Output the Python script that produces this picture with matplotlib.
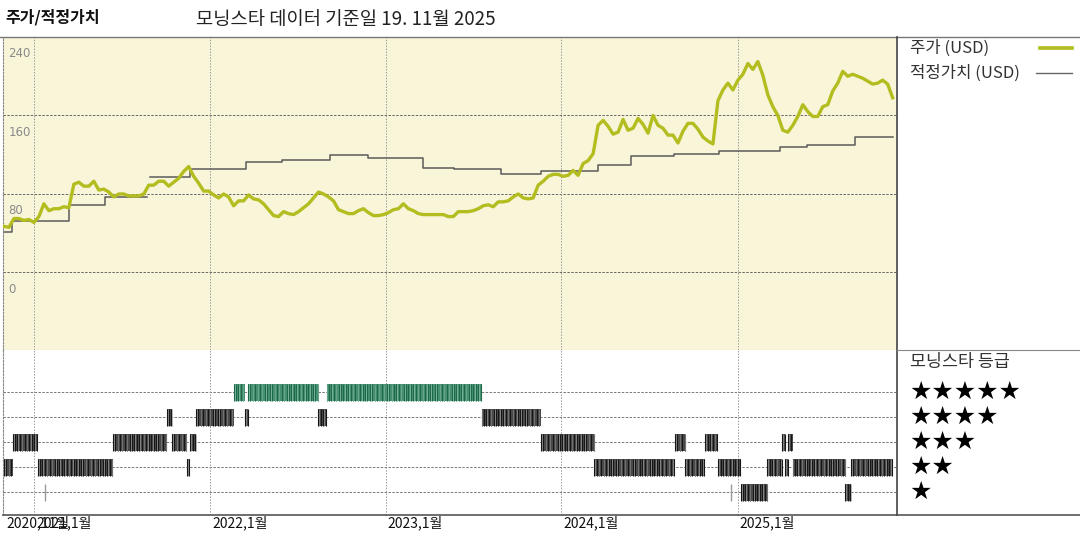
import matplotlib
matplotlib.use('Agg')
import matplotlib.pyplot as plt
import matplotlib.dates as mdates
from matplotlib.lines import Line2D
import numpy as np
import pandas as pd

plt.rcParams['font.family'] = ['Noto Sans CJK KR', 'DejaVu Sans']

# ---------------- data ----------------
price_start = '2020-10-30'
price_end = '2025-11-19'
price = [47, 46, 55, 55, 53, 54, 51, 57, 70, 63, 65, 65, 67, 66, 90, 92, 88, 88, 93, 84,
         85, 82, 77, 80, 80, 78, 78, 78, 80, 89, 89, 93, 93, 88, 92, 96, 103, 108, 98, 91,
         83, 83, 79, 76, 80, 77, 68, 73, 73, 79, 75, 74, 70, 64, 58, 57, 62, 60, 59, 62,
         66, 70, 76, 82, 80, 77, 73, 64, 62, 60, 60, 63, 65, 61, 58, 58, 59, 61, 64, 65,
         70, 65, 63, 60, 59, 59, 59, 59, 59, 57, 57, 62, 62, 62, 63, 65, 68, 69, 67, 72,
         72, 73, 77, 80, 76, 75, 76, 89, 93, 98, 100, 100, 98, 99, 104, 99, 111, 114, 121, 150,
         155, 149, 141, 143, 156, 145, 147, 157, 151, 142, 160, 150, 147, 140, 140, 132, 144, 152, 152, 146,
         138, 134, 131, 175, 186, 193, 186, 196, 202, 213, 207, 215, 201, 181, 169, 160, 145, 143, 150, 159,
         171, 164, 159, 159, 169, 171, 185, 193, 205, 200, 202, 200, 198, 195, 192, 193, 196, 192, 178]

fv_dates = ['2020-10-30', '2020-11-15', '2021-03-15', '2021-05-27', '2021-08-23', '2021-08-29',
            '2021-11-21', '2022-03-17', '2022-05-31', '2022-09-08', '2022-11-26', '2023-03-19',
            '2023-05-22', '2023-08-28', '2023-11-19', '2024-03-17', '2024-05-25', '2024-08-22',
            '2024-11-24', '2025-03-29', '2025-05-26', '2025-09-01', '2025-11-19']
fv_values = [41, 52, 69, 77, np.nan, 97, 105, 113, 115, 120, 117, 106, 105, 100.5, 103, 110,
             119, 121, 124, 128, 130, 138, 138]

rating_start = ['2020-10-30', '2020-11-17', '2021-01-08', '2021-06-13', '2021-10-03', '2021-10-14',
                '2021-11-14', '2021-11-21', '2021-12-03', '2022-02-19', '2022-03-15', '2022-03-21',
                '2022-08-14', '2022-08-31', '2023-07-19', '2023-11-19', '2024-03-09', '2024-08-24',
                '2024-09-14', '2024-10-26', '2024-11-22', '2025-01-07', '2025-03-04', '2025-04-04',
                '2025-04-10', '2025-04-16', '2025-04-25', '2025-08-13', '2025-08-24']
rating_end = ['2020-11-17', '2021-01-08', '2021-06-13', '2021-10-03', '2021-10-14', '2021-11-14',
              '2021-11-21', '2021-12-03', '2022-02-19', '2022-03-15', '2022-03-21', '2022-08-14',
              '2022-08-31', '2023-07-19', '2023-11-19', '2024-03-09', '2024-08-24', '2024-09-14',
              '2024-10-26', '2024-11-22', '2025-01-07', '2025-03-04', '2025-04-04', '2025-04-10',
              '2025-04-16', '2025-04-25', '2025-08-13', '2025-08-24', '2025-11-19']
rating_stars = [2, 3, 2, 3, 4, 3, 2, 3, 4, 5, 4, 5, 4, 5, 4, 3, 2, 3, 2, 3, 2, 1, 2, 3, 2, 3, 2, 1, 2]
rating_blips = ['2021-01-24', '2024-12-18']   # single-day 1-star marks

tick_dates = ['2020-10-30', '2021-01-01', '2022-01-01', '2023-01-01', '2024-01-01', '2025-01-01']
tick_labels = ['2020,11월', '2021,1월', '2022,1월', '2023,1월', '2024,1월', '2025,1월']
grid_years = ['2021-01-01', '2022-01-01', '2023-01-01', '2024-01-01', '2025-01-01']
y_ticks = [0, 80, 160, 240]

title_left = '주가/적정가치'
title_main = '모닝스타 데이터 기준일 19. 11월 2025'
legend_price = '주가 (USD)'
legend_fv = '적정가치 (USD)'
rating_title = '모닝스타 등급'

# ---------------- styling ----------------
W, H = 1080, 540
fig = plt.figure(figsize=(W / 100, H / 100), dpi=100)
fig.patch.set_facecolor('white')

def fx(px):
    return px / W

def fy(py):
    return 1 - py / H

x_left, x_right = 3, 897
ax = fig.add_axes([fx(x_left), fy(350), fx(x_right - x_left), fy(37) - fy(350)])
axr = fig.add_axes([fx(x_left), fy(515), fx(x_right - x_left), fy(350) - fy(515)])

xlim = (pd.Timestamp('2020-10-28'), pd.Timestamp('2025-11-28'))
BG = '#f9f5d9'
PRICE_C = '#b3bd1f'
FV_C = '#5a5a5a'

# --- top panel
ax.set_facecolor(BG)
price_dates = pd.date_range(price_start, price_end, periods=len(price))
ax.plot(price_dates, price, color=PRICE_C, lw=2.4, solid_joinstyle='round', zorder=3)
ax.step(pd.to_datetime(fv_dates), fv_values, where='post', color=FV_C, lw=1.1, zorder=2)
ax.set_xlim(*xlim)
ax.set_ylim(-79, 240)
for v in y_ticks[:-1]:
    ax.axhline(v, color='#666666', lw=0.7, ls=(0, (2.5, 1.5)), zorder=1)
for d in grid_years:
    ax.axvline(pd.Timestamp(d), color='#9a9a9a', lw=0.7, ls=(0, (1.5, 1.5)), zorder=1)
for v in y_ticks:
    ax.annotate(str(v), xy=(0, v), xycoords=('axes fraction', 'data'),
                xytext=(4, -12), textcoords='offset points', ha='left', va='center',
                fontsize=8.5, color='#8a8a8a', family=['DejaVu Sans'])
ax.set_xticks([]); ax.set_yticks([])
for s in ['top', 'right']:
    ax.spines[s].set_visible(False)
ax.spines['left'].set_linestyle((0, (1.5, 1.5)))
ax.spines['left'].set_color('#888888')
ax.spines['bottom'].set_color('#cfc79a')
ax.spines['bottom'].set_linewidth(0.8)

# --- rating panel
axr.set_facecolor('white')
axr.set_xlim(*xlim)
axr.set_ylim(0.08, 6.68)
for s in range(1, 6):
    axr.axhline(s, color='#777777', lw=0.7, ls=(0, (2.5, 1.5)), zorder=1)
for d in grid_years:
    axr.axvline(pd.Timestamp(d), color='#9a9a9a', lw=0.7, ls=(0, (1.5, 1.5)), zorder=1)

hh = 0.34
for st, en, n in zip(rating_start, rating_end, rating_stars):
    s0, e0 = pd.Timestamp(st), pd.Timestamp(en)
    if n == 5:
        face, dark, light = '#4a9274', '#1c6a4a', '#8cc0a8'
    else:
        face, dark, light = '#4c4c4c', '#161616', '#9a9a9a'
    x0 = mdates.date2num(s0)
    wd = mdates.date2num(e0) - x0
    axr.broken_barh([(x0, wd)], (n - hh, 2 * hh), facecolors=face, edgecolor='none', zorder=2)
    axr.vlines(pd.date_range(s0, e0, freq='5D'), n - hh, n + hh, colors=dark, lw=0.8, zorder=3)
    axr.vlines(pd.date_range(s0 + pd.Timedelta(days=2), e0, freq='9D'), n - hh, n + hh,
               colors=light, lw=0.5, zorder=3)
for b in rating_blips:
    axr.vlines(pd.Timestamp(b), 1 - hh, 1 + hh, colors='#9a9a9a', lw=1.0, zorder=3)

axr.set_xticks([]); axr.set_yticks([])
for s in ['top', 'right', 'bottom']:
    axr.spines[s].set_visible(False)
axr.spines['left'].set_linestyle((0, (1.5, 1.5)))
axr.spines['left'].set_color('#888888')

for d, lab in zip(tick_dates, tick_labels):
    axr.annotate(lab, xy=(pd.Timestamp(d), 0), xycoords=('data', 'axes fraction'),
                 xytext=(1.5, -0.5), textcoords='offset points', ha='left', va='top',
                 fontsize=10, color='#111111')

# --- frame lines
fig.add_artist(Line2D([0, 1], [fy(37), fy(37)], color='#777777', lw=1.0))
fig.add_artist(Line2D([fx(x_left), 1], [fy(515), fy(515)], color='#555555', lw=1.2))
fig.add_artist(Line2D([fx(x_right), fx(x_right)], [fy(37), fy(515)], color='#444444', lw=1.2))
fig.add_artist(Line2D([fx(x_right), 1], [fy(350), fy(350)], color='#888888', lw=0.8))

# --- titles
fig.text(fx(5), fy(17), title_left, fontsize=11.5, fontweight='bold', color='#111111',
         ha='left', va='center')
fig.text(fx(196), fy(20), title_main, fontsize=13.5, color='#222222', ha='left', va='center')

# --- legend
fig.text(fx(910), fy(48), legend_price, fontsize=12, color='#333333', ha='left', va='center')
fig.add_artist(Line2D([fx(1040), fx(1072)], [fy(48), fy(48)], color=PRICE_C, lw=2.6))
fig.text(fx(910), fy(73), legend_fv, fontsize=12, color='#333333', ha='left', va='center')
fig.add_artist(Line2D([fx(1036), fx(1072)], [fy(73), fy(73)], color='#666666', lw=1.0))

# --- rating legend
fig.text(fx(910), fy(362), rating_title, fontsize=12.5, color='#333333', ha='left', va='center')
for s, ypx in zip([5, 4, 3, 2, 1], [392, 417, 442, 467, 492]):
    fig.text(fx(909), fy(ypx), '★' * s, fontsize=18, color='black', ha='left', va='center',
             family=['DejaVu Sans'])

fig.savefig('out.png', dpi=100, facecolor='white')
